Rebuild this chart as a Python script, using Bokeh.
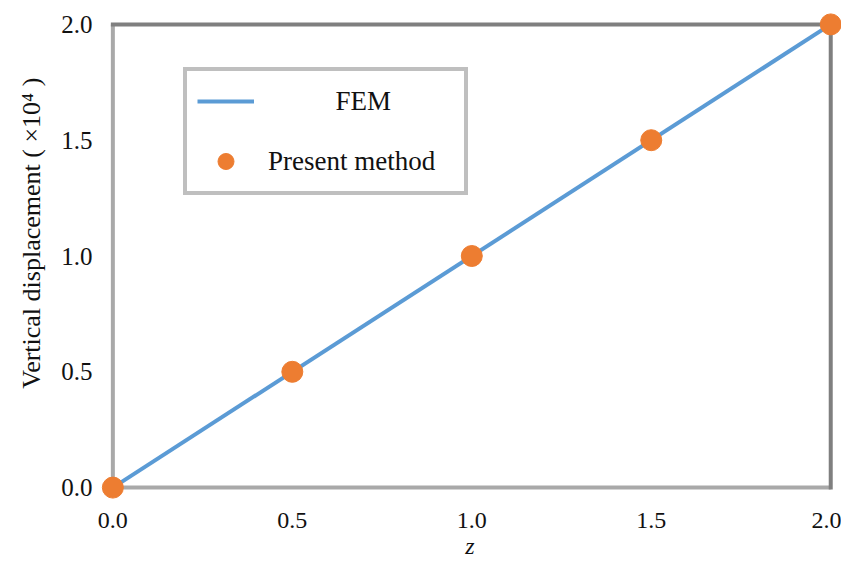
from bokeh.plotting import figure
from bokeh.models import Range1d, FixedTicker, NumeralTickFormatter, Legend, LegendItem
from bokeh.embed import file_html
from bokeh.resources import INLINE

# Positions along the member and vertical displacement (x 10^4)
fem_z = [0.0, 2.0]
fem_disp = [0.0, 2.0]
present_z = [0.0, 0.5, 1.0, 1.5, 2.0]
present_disp = [0.0, 0.5, 1.0, 1.5, 2.0]
tick_values = [0.0, 0.5, 1.0, 1.5, 2.0]

# Axis limits used for the plot box
x_lim = [0.0, 2.0]
y_lim = [0.0, 2.0]

SERIF = "Liberation Serif"
BLUE = "#5b9bd5"
ORANGE = "#ed7d31"
NBSP = "\u00a0"

p = figure(
    width=841, height=569,
    x_range=Range1d(-0.04, 2.03), y_range=Range1d(-0.06, 2.06),
    output_backend="svg", toolbar_location=None,
    min_border_left=98, min_border_right=0,
    min_border_top=10, min_border_bottom=68,
)
p.outline_line_color = None
p.xgrid.grid_line_color = None
p.ygrid.grid_line_color = None
p.background_fill_color = "white"
p.border_fill_color = "white"

# Plot box: light left/bottom edges, darker top/right edges
p.line([x_lim[0], x_lim[0]], y_lim, line_color="#a9a9a9", line_width=4)
p.line(x_lim, [y_lim[0], y_lim[0]], line_color="#a9a9a9", line_width=4)
p.line(x_lim, [y_lim[1], y_lim[1]], line_color="#7f7f7f", line_width=4, line_cap="square")
p.line([x_lim[1], x_lim[1]], y_lim, line_color="#7f7f7f", line_width=4, line_cap="square")

fem = p.line(fem_z, fem_disp, line_color=BLUE, line_width=4)
present = p.scatter(present_z, present_disp, size=21, fill_color=ORANGE, line_color=ORANGE)

for ax in (p.xaxis, p.yaxis):
    ax.ticker = FixedTicker(ticks=tick_values)
    ax.formatter = NumeralTickFormatter(format="0.0")
    ax.axis_line_color = None
    ax.major_tick_line_color = None
    ax.minor_tick_line_color = None
    ax.major_tick_in = 0
    ax.major_tick_out = 0
    ax.minor_tick_in = 0
    ax.minor_tick_out = 0
    ax.major_label_text_font = SERIF
    ax.major_label_text_color = "#111111"
    ax.axis_label_text_font = SERIF
    ax.axis_label_text_color = "#111111"

p.xaxis.major_label_text_font_size = "24px"
p.xaxis.major_label_standoff = 11
p.xaxis.axis_label = "z"
p.xaxis.axis_label_text_font_size = "24px"
p.xaxis.axis_label_text_font_style = "italic"
p.xaxis.axis_label_standoff = 2

p.yaxis.major_label_text_font_size = "25px"
p.yaxis.major_label_standoff = 6
p.yaxis.axis_label = NBSP * 7 + "Vertical displacement ( \u00d710\u2074 )"
p.yaxis.axis_label_text_font_size = "26px"
p.yaxis.axis_label_text_font_style = "normal"
p.yaxis.axis_label_standoff = 12

legend = Legend(
    items=[
        LegendItem(label=NBSP * 10 + "FEM", renderers=[fem]),
        LegendItem(label="Present method", renderers=[present]),
    ],
    location=(85, 306),
    margin=0,
    padding=10,
    spacing=20,
    glyph_width=57,
    glyph_height=40,
    label_standoff=14,
    label_width=186,
    label_text_font=SERIF,
    label_text_font_size="27px",
    label_text_color="#111111",
    border_line_color="#7f7f7f",
    border_line_width=4,
    background_fill_color="white",
    background_fill_alpha=1.0,
)
p.add_layout(legend)

open("out.html", "w").write(file_html(p, INLINE))
